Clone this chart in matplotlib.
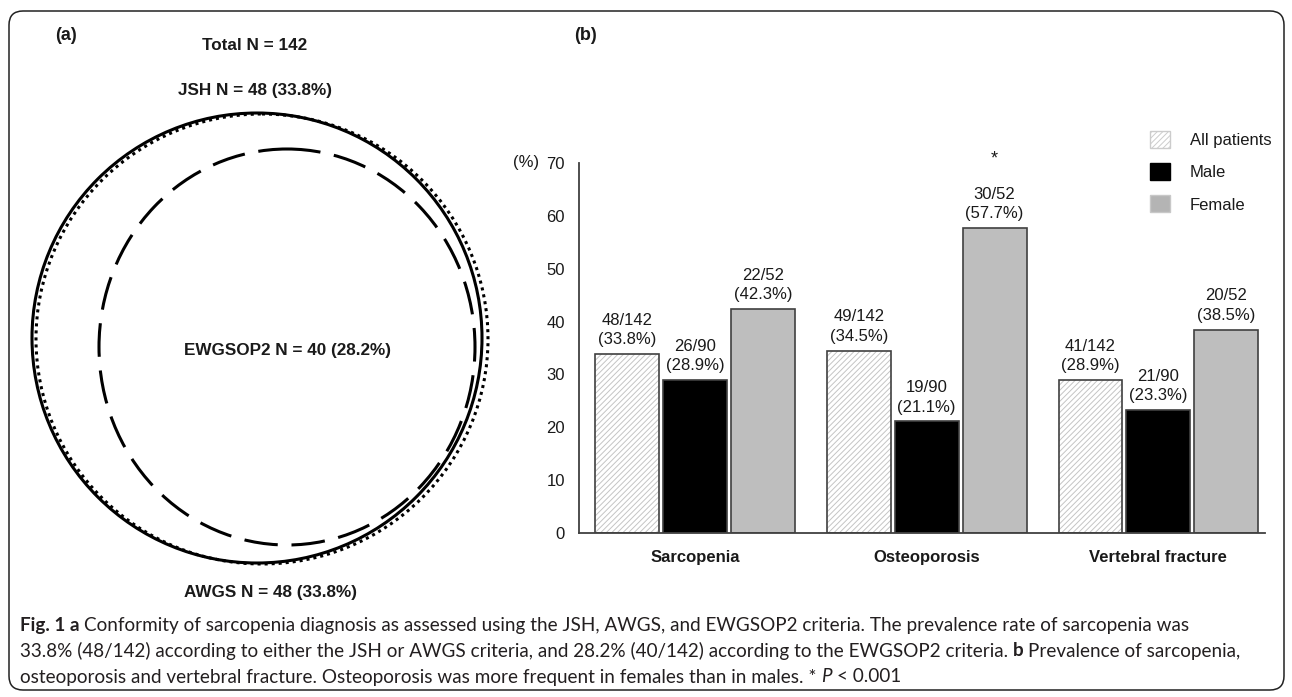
import matplotlib
matplotlib.use("Agg")
import matplotlib.pyplot as plt
from matplotlib.patches import Ellipse, FancyBboxPatch, Patch
import numpy as np

plt.rcParams["font.family"] = ["Liberation Sans", "DejaVu Sans"]
plt.rcParams["hatch.linewidth"] = 0.7

W, H = 1292, 697
TXT = "#1a1a1a"

# panel (b) data
categories = ["Sarcopenia", "Osteoporosis", "Vertebral fracture"]
series = ["All patients", "Male", "Female"]
all_pct = [33.8, 34.5, 28.9]
male_pct = [28.9, 21.1, 23.3]
female_pct = [42.3, 57.7, 38.5]
all_n = ["48/142", "49/142", "41/142"]
male_n = ["26/90", "19/90", "21/90"]
female_n = ["22/52", "30/52", "20/52"]
star_group = 1  # osteoporosis, female vs male

# panel (a) labels
total_label = "Total N = 142"
jsh_label = "JSH N = 48 (33.8%)"
awgs_label = "AWGS N = 48 (33.8%)"
ewg_label = "EWGSOP2 N = 40 (28.2%)"

fig = plt.figure(figsize=(W / 100, H / 100), dpi=100)

# overlay in pixel coordinates for frame, venn circles and caption
ax0 = fig.add_axes([0, 0, 1, 1])
ax0.set_xlim(0, W)
ax0.set_ylim(H, 0)
ax0.axis("off")

ax0.add_patch(FancyBboxPatch((9, 11), 1275, 679,
                             boxstyle="round,pad=0,rounding_size=14",
                             fill=False, ec="#222222", lw=1.1))

# (a) circles
ax0.add_patch(Ellipse((257, 338), 450, 450, fill=False, ec="black", lw=2.2))
dotted = Ellipse((262, 339), 452, 450, fill=False, ec="black", lw=2.2,
                 linestyle=(0, (1.0, 1.3)))
dotted.set_capstyle("butt")
ax0.add_patch(dotted)
ax0.add_patch(Ellipse((287, 347), 376, 396, fill=False, ec="black", lw=2.2,
                      linestyle=(0, (11, 4.5))))

ax0.text(55, 35, "(a)", fontsize=13, fontweight="bold", color=TXT, va="center")
ax0.text(574, 35, "(b)", fontsize=13, fontweight="bold", color=TXT, va="center")
ax0.text(255, 45, total_label, fontsize=12.3, fontweight="bold", color=TXT,
         ha="center", va="center")
ax0.text(255, 90, jsh_label, fontsize=12.3, fontweight="bold", color=TXT,
         ha="center", va="center")
ax0.text(287, 350, ewg_label, fontsize=12.3, fontweight="bold", color=TXT,
         ha="center", va="center")
ax0.text(270, 593, awgs_label, fontsize=12.3, fontweight="bold", color=TXT,
         ha="center", va="center")
ax0.text(539, 163, "(%)", fontsize=12, color=TXT, ha="right", va="center")

# (b) bars
ax = fig.add_axes([579 / W, (H - 533) / H, (1265 - 579) / W, 370 / H])
x = np.arange(len(categories))
bw = 0.276
off = 0.293
edge = "#404040"

ax.bar(x - off, all_pct, bw, color="white", edgecolor="#c4c4c4", hatch="//////",
       linewidth=0)
ax.bar(x - off, all_pct, bw, fill=False, edgecolor=edge, linewidth=1.2)
ax.bar(x, male_pct, bw, color="black", edgecolor=edge, linewidth=1.2)
ax.bar(x + off, female_pct, bw, color="#bebebe", edgecolor=edge, linewidth=1.2)

for xs, vals, ns in [(x - off, all_pct, all_n), (x, male_pct, male_n),
                     (x + off, female_pct, female_n)]:
    for xi, v, n in zip(xs, vals, ns):
        ax.annotate(f"{n}\n({v:.1f}%)", (xi, v), xytext=(0, 5),
                    textcoords="offset points", ha="center", va="bottom",
                    fontsize=12, color=TXT, linespacing=1.35)

ax.annotate("*", (x[star_group] + off, female_pct[star_group]), xytext=(0, 50),
            textcoords="offset points", ha="center", va="center",
            fontsize=13, color=TXT)

ax.set_xlim(-0.5, 2.46)
ax.set_ylim(0, 70)
ax.set_yticks(range(0, 71, 10))
ax.set_xticks(x)
ax.set_xticklabels(categories, fontweight="bold", fontsize=12, color=TXT)
ax.tick_params(axis="y", length=0, pad=10, labelsize=12, labelcolor=TXT)
ax.tick_params(axis="x", length=0, pad=12)
for s in ["top", "right"]:
    ax.spines[s].set_visible(False)
for s in ["left", "bottom"]:
    ax.spines[s].set_color(edge)
    ax.spines[s].set_linewidth(1.3)

handles = [
    Patch(facecolor="white", edgecolor="#cccccc", hatch="//////", lw=1),
    Patch(facecolor="black", edgecolor="black"),
    Patch(facecolor="#b4b4b4", edgecolor="#c8c8c8"),
]
fig.legend(handles, series, loc="upper left",
           bbox_to_anchor=(1150 / W, 1 - 131 / H), frameon=False,
           fontsize=12, handlelength=1.2, handleheight=1.2,
           handletextpad=1.2, labelspacing=0.9, borderpad=0,
           borderaxespad=0, labelcolor=TXT)

# caption
renderer = fig.canvas.get_renderer()
CAP = ["Lato", "DejaVu Sans"]
CAP_COLOR = "#231f20"

lines = [
    [("Fig. 1 a", "bold", "normal"),
     (" Conformity of sarcopenia diagnosis as assessed using the JSH, AWGS, "
      "and EWGSOP2 criteria. The prevalence rate of sarcopenia was",
      "normal", "normal")],
    [("33.8% (48/142) according to either the JSH or AWGS criteria, and "
      "28.2% (40/142) according to the EWGSOP2 criteria.", "normal", "normal"),
     (" b", "bold", "normal"),
     (" Prevalence of sarcopenia,", "normal", "normal")],
    [("osteoporosis and vertebral fracture. Osteoporosis was more frequent "
      "in females than in males. *", "normal", "normal"),
     (" P", "normal", "italic"),
     (" < 0.001", "normal", "normal")],
]
line_y = [625, 651, 677]


def text_width(s, size, weight="normal", style="normal"):
    t = ax0.text(0, 0, s, fontsize=size, fontweight=weight, fontstyle=style,
                 family=CAP)
    w = t.get_window_extent(renderer).width
    t.remove()
    return w


def line_width(runs, size):
    space = text_width("a a", size) - text_width("aa", size)
    total = 0
    for s, weight, style in runs:
        if s.startswith(" "):
            total += space
            s = s[1:]
        total += text_width(s, size, weight, style)
    return total


def draw_line(runs, x0, y, size):
    xpos = x0
    space = text_width("a a", size) - text_width("aa", size)
    for s, weight, style in runs:
        if s.startswith(" "):
            xpos += space
            s = s[1:]
        t = ax0.text(xpos, y, s, fontsize=size, fontweight=weight,
                     fontstyle=style, family=CAP, color=CAP_COLOR,
                     ha="left", va="center")
        xpos = t.get_window_extent(renderer).x1


# fit caption size so the widest line spans the frame like the original
widest = max(line_width(runs, 10) for runs in lines[:2])
cap_size = 10 * 1220 / widest
for runs, y in zip(lines, line_y):
    draw_line(runs, 20, y, cap_size)

fig.savefig("out.png", dpi=100)
